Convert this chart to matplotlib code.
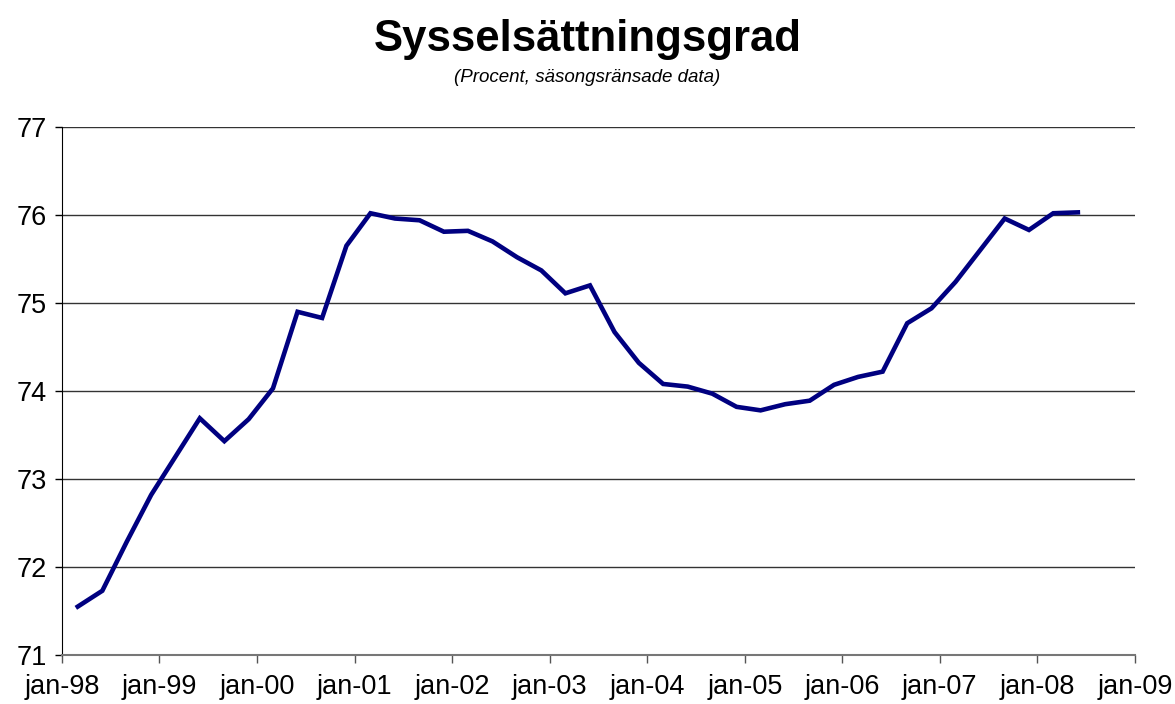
import matplotlib
matplotlib.use("Agg")
import matplotlib.pyplot as plt
import pandas as pd

# Quarterly employment rate, 1998 Q1 - 2008 Q2
dates = pd.date_range("1998-03-01", periods=42, freq="3MS")
employment_rate = [
    71.55, 71.73, 72.29, 72.82, 73.25, 73.69, 73.43, 73.68,
    74.03, 74.90, 74.83, 75.65, 76.02, 75.96, 75.94, 75.81,
    75.82, 75.70, 75.52, 75.37, 75.11, 75.20, 74.67, 74.32,
    74.08, 74.05, 73.97, 73.82, 73.78, 73.85, 73.89, 74.07,
    74.16, 74.22, 74.77, 74.94, 75.24, 75.60, 75.96, 75.83,
    76.02, 76.03,
]
tick_years = list(range(1998, 2010))
tick_labels = [f"jan-{y % 100:02d}" for y in tick_years]
y_ticks = [71, 72, 73, 74, 75, 76, 77]

plt.rcParams["font.family"] = ["Liberation Sans", "DejaVu Sans"]

fig = plt.figure(figsize=(11.75, 7.04), dpi=100)
ax = fig.add_axes([62 / 1175, 49 / 704, 1073 / 1175, 528 / 704])

ax.plot(dates, employment_rate, color="#000080", linewidth=3.3, solid_joinstyle="miter")

ax.set_ylim(71, 77)
ax.set_yticks(y_ticks)
ax.set_yticklabels([str(v) for v in y_ticks], fontsize=19.5)
ax.grid(True, axis="y", color="#333333", linewidth=1.0)
ax.set_axisbelow(True)

tick_dates = [pd.Timestamp(f"{y}-01-01") for y in tick_years]
ax.set_xlim(tick_dates[0], tick_dates[-1])
ax.set_xticks(tick_dates)
ax.set_xticklabels(tick_labels, fontsize=19.5)

ax.tick_params(axis="x", direction="out", length=6, width=1, color="#555555", pad=8)
ax.tick_params(axis="y", direction="out", length=5, width=1, color="black", pad=6)

ax.spines["top"].set_visible(False)
ax.spines["right"].set_visible(False)
ax.spines["left"].set_color("black")
ax.spines["bottom"].set_color("#777777")
ax.spines["bottom"].set_linewidth(1.5)

fig.text(0.5, 1 - 39 / 704, "Sysselsättningsgrad", ha="center", va="center",
         fontsize=31.5, fontweight="bold")
fig.text(0.5, 1 - 77 / 704, "(Procent, säsongsränsade data)", ha="center", va="center",
         fontsize=13.5, style="italic")

fig.savefig("out.png", dpi=100)
